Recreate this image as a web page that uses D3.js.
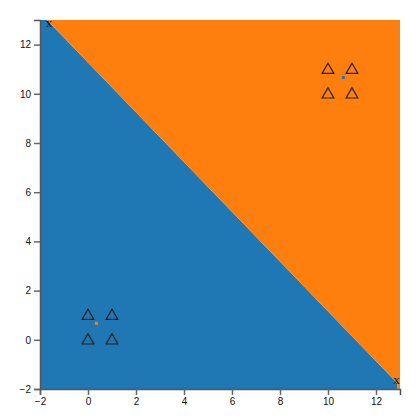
<!DOCTYPE html>
<html><head><meta charset="utf-8">
<script src="https://cdn.jsdelivr.net/npm/d3@7"></script>
<style>body{margin:0;background:#fff}svg{display:block}</style>
</head><body>
<svg id="chart" width="420" height="420"></svg>
<script>
// data
const xDomain = [-2, 13];
const yDomain = [-2, 13];
const xTicks = [-2, 0, 2, 4, 6, 8, 10, 12];
const yTicks = [-2, 0, 2, 4, 6, 8, 10, 12];
// decision boundary endpoints (x, y)
const boundaryX = [-1.71, 12.88];
const boundaryY = [13, -1.76];
// training points
const pointsX = [0, 1, 0, 1, 10, 11, 10, 11];
const pointsY = [0, 0, 1, 1, 10, 10, 11, 11];
// small dots
const dotsX = [0.35, 10.64];
const dotsY = [0.67, 10.66];
const dotsClass = [1, 0];
// x markers
const markX = [-1.62, 12.85];
const markY = [12.9, -1.6];

const colors = ["#1f77b4", "#ff7f0e"];
const svg = d3.select("#chart");
const margin = {left: 40, right: 20, top: 20, bottom: 31};
const W = 420, H = 420;
const x = d3.scaleLinear().domain(xDomain).range([margin.left, W - margin.right]);
const y = d3.scaleLinear().domain(yDomain).range([H - margin.bottom, margin.top]);

const g = svg.append("g");
// blue region (below boundary)
const bluePoly = [
  [xDomain[0], yDomain[1]], [boundaryX[0], boundaryY[0]], [boundaryX[1], boundaryY[1]],
  [boundaryX[1], yDomain[0]], [xDomain[0], yDomain[0]]
];
const orangePoly = [
  [boundaryX[0], boundaryY[0]], [xDomain[1], yDomain[1]], [xDomain[1], yDomain[0]],
  [boundaryX[1], yDomain[0]], [boundaryX[1], boundaryY[1]]
];
const line = d3.line().x(d => x(d[0])).y(d => y(d[1]));
g.append("path").attr("d", line(bluePoly) + "Z").attr("fill", colors[0]);
g.append("path").attr("d", line(orangePoly) + "Z").attr("fill", colors[1]);

// triangles
const tri = d3.symbol().type(d3.symbolTriangle).size(60);
g.selectAll("path.tri").data(pointsX.map((v, i) => [v, pointsY[i]])).join("path")
  .attr("class", "tri")
  .attr("d", tri)
  .attr("transform", d => `translate(${x(d[0])},${y(d[1]) + 0.8})`)
  .attr("fill", "none").attr("stroke", "#222").attr("stroke-width", 1.2);

// small dots
g.selectAll("rect.dot").data(dotsX.map((v, i) => [v, dotsY[i], dotsClass[i]])).join("rect")
  .attr("class", "dot")
  .attr("x", d => x(d[0]) - 1.5).attr("y", d => y(d[1]) - 1.5)
  .attr("width", 3).attr("height", 3)
  .attr("fill", d => colors[d[2]]);

// x markers
g.selectAll("text.mark").data(markX.map((v, i) => [v, markY[i]])).join("text")
  .attr("class", "mark")
  .attr("x", d => x(d[0])).attr("y", d => y(d[1]))
  .attr("text-anchor", "middle").attr("dominant-baseline", "central")
  .attr("font-family", "Liberation Serif").attr("font-size", 13)
  .attr("fill", "#111").text("x");

// axes
const xAxis = svg.append("g").attr("transform", `translate(0,${H - margin.bottom})`)
  .call(d3.axisBottom(x).tickValues(xTicks).tickFormat(d3.format("d")));
const yAxis = svg.append("g").attr("transform", `translate(${margin.left},0)`)
  .call(d3.axisLeft(y).tickValues(yTicks).tickFormat(d3.format("d")));
[xAxis, yAxis].forEach(a => {
  a.selectAll(".domain").attr("stroke", "#555").attr("stroke-width", 1.5);
  a.selectAll(".tick line").attr("stroke", "#666").attr("stroke-width", 1.5);
  a.selectAll("text").attr("fill", "#111").attr("font-size", 10);
});
</script>
</body></html>
